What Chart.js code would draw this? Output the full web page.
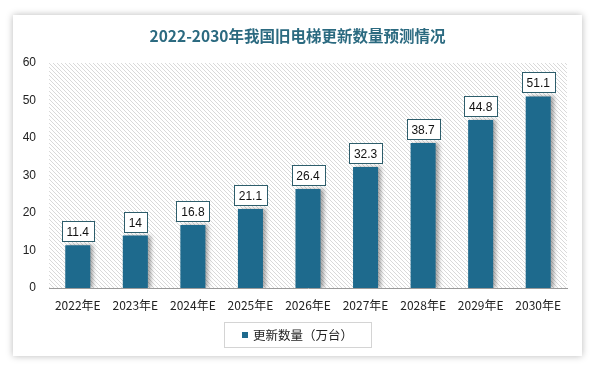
<!DOCTYPE html>
<html>
<head>
<meta charset="utf-8">
<script src="https://cdn.jsdelivr.net/npm/chart.js@4"></script>
<style>
  html, body { margin: 0; padding: 0; background: #fff; }
  body { width: 595px; height: 373px; position: relative; overflow: hidden; }
  #card {
    position: absolute; left: 13px; top: 15px; width: 569px; height: 341px;
    background: #fff; box-shadow: 0 0 7px rgba(0,0,0,0.28);
  }
  canvas { display: block; }
</style>
</head>
<body>
<div id="card"><canvas id="chart" width="569" height="341"></canvas></div>
<script>
const years = ['2022年E', '2023年E', '2024年E', '2025年E', '2026年E', '2027年E', '2028年E', '2029年E', '2030年E'];
const updates = [11.4, 14, 16.8, 21.1, 26.4, 32.3, 38.7, 44.8, 51.1];
const yTicks = [0, 10, 20, 30, 40, 50, 60];
const titleText = '2022-2030年我国旧电梯更新数量预测情况';
const seriesName = '更新数量（万台）';

const barColor = '#1e6a8d';
const cjk = '"Noto Sans CJK SC", "Liberation Sans", sans-serif';

// hatched background tile
function makeHatch() {
    const c = document.createElement('canvas');
    c.width = 4; c.height = 4;
    const g = c.getContext('2d');
    g.fillStyle = '#fff';
    g.fillRect(0, 0, 4, 4);
    g.strokeStyle = '#d9d9d9';
    g.lineWidth = 1;
    g.beginPath();
    g.moveTo(-1, -1); g.lineTo(5, 5);
    g.moveTo(-1, 3); g.lineTo(1, 5);
    g.moveTo(3, -1); g.lineTo(5, 1);
    g.stroke();
    return c;
}

const decor = {
    id: 'decor',
    beforeDraw(chart) {
        const { ctx, chartArea: a } = chart;
        ctx.save();
        ctx.fillStyle = ctx.createPattern(makeHatch(), 'repeat');
        ctx.fillRect(a.left, a.top, a.right - a.left, a.bottom - a.top);
        ctx.restore();
    },
    beforeDatasetsDraw(chart) {
        const ctx = chart.ctx;
        ctx.save();
        ctx.shadowColor = 'rgba(0,0,0,0.35)';
        ctx.shadowOffsetX = 3;
        ctx.shadowOffsetY = 0;
        ctx.shadowBlur = 4;
    },
    afterDatasetsDraw(chart) {
        chart.ctx.restore();
    },
    afterDraw(chart) {
        const ctx = chart.ctx;
        ctx.save();

        // value boxes
        ctx.font = '12px "Liberation Sans", sans-serif';
        ctx.textAlign = 'center';
        ctx.textBaseline = 'middle';
        chart.getDatasetMeta(0).data.forEach((bar, i) => {
            const txt = String(updates[i]);
            const w = Math.round(ctx.measureText(txt).width) + 10;
            const h = 20;
            const x = Math.round(bar.x - w / 2) + 0.5;
            const y = Math.round(bar.y - 4 - h) + 0.5;
            ctx.fillStyle = '#fff';
            ctx.fillRect(x, y, w, h);
            ctx.strokeStyle = '#2d5d6b';
            ctx.lineWidth = 1;
            ctx.strokeRect(x, y, w, h);
            ctx.fillStyle = '#111';
            ctx.fillText(txt, bar.x, y + h / 2 + 1);
        });

        // title
        ctx.font = 'bold 15.5px ' + cjk;
        ctx.fillStyle = '#2b6a80';
        ctx.fillText(titleText, chart.width / 2, 21);

        // legend
        ctx.strokeStyle = '#d4d4d4';
        ctx.strokeRect(211.5, 307.5, 147, 25);
        ctx.fillStyle = barColor;
        ctx.fillRect(229, 317, 6, 6);
        ctx.font = '12.5px ' + cjk;
        ctx.fillStyle = '#222';
        ctx.textAlign = 'left';
        ctx.fillText(seriesName, 240, 320.5);

        ctx.restore();
    }
};

new Chart(document.getElementById('chart'), {
    type: 'bar',
    data: {
        labels: years,
        datasets: [{
            label: seriesName,
            data: updates,
            backgroundColor: barColor,
            borderWidth: 0,
            barPercentage: 0.435,
            categoryPercentage: 1
        }]
    },
    options: {
        responsive: false,
        animation: false,
        layout: { padding: { top: 48, right: 15, bottom: 0, left: 0 } },
        plugins: {
            legend: { display: false },
            title: { display: false },
            tooltip: { enabled: false }
        },
        scales: {
            x: {
                grid: { display: false, drawTicks: false },
                border: { display: true, color: '#9a9a9a', width: 1 },
                ticks: {
                    color: '#222',
                    font: { size: 12, family: cjk },
                    padding: 10,
                    maxRotation: 0,
                    autoSkip: false
                },
                afterFit(scale) { scale.height = 68; }
            },
            y: {
                min: 0,
                max: 60,
                afterBuildTicks(scale) { scale.ticks = yTicks.map(v => ({ value: v })); },
                grid: { display: false, drawTicks: false },
                border: { display: false },
                ticks: {
                    color: '#222',
                    font: { size: 12, family: '"Liberation Sans", sans-serif' },
                    padding: 13
                },
                afterFit(scale) { scale.width = 36; }
            }
        }
    },
    plugins: [decor]
});
</script>
</body>
</html>
